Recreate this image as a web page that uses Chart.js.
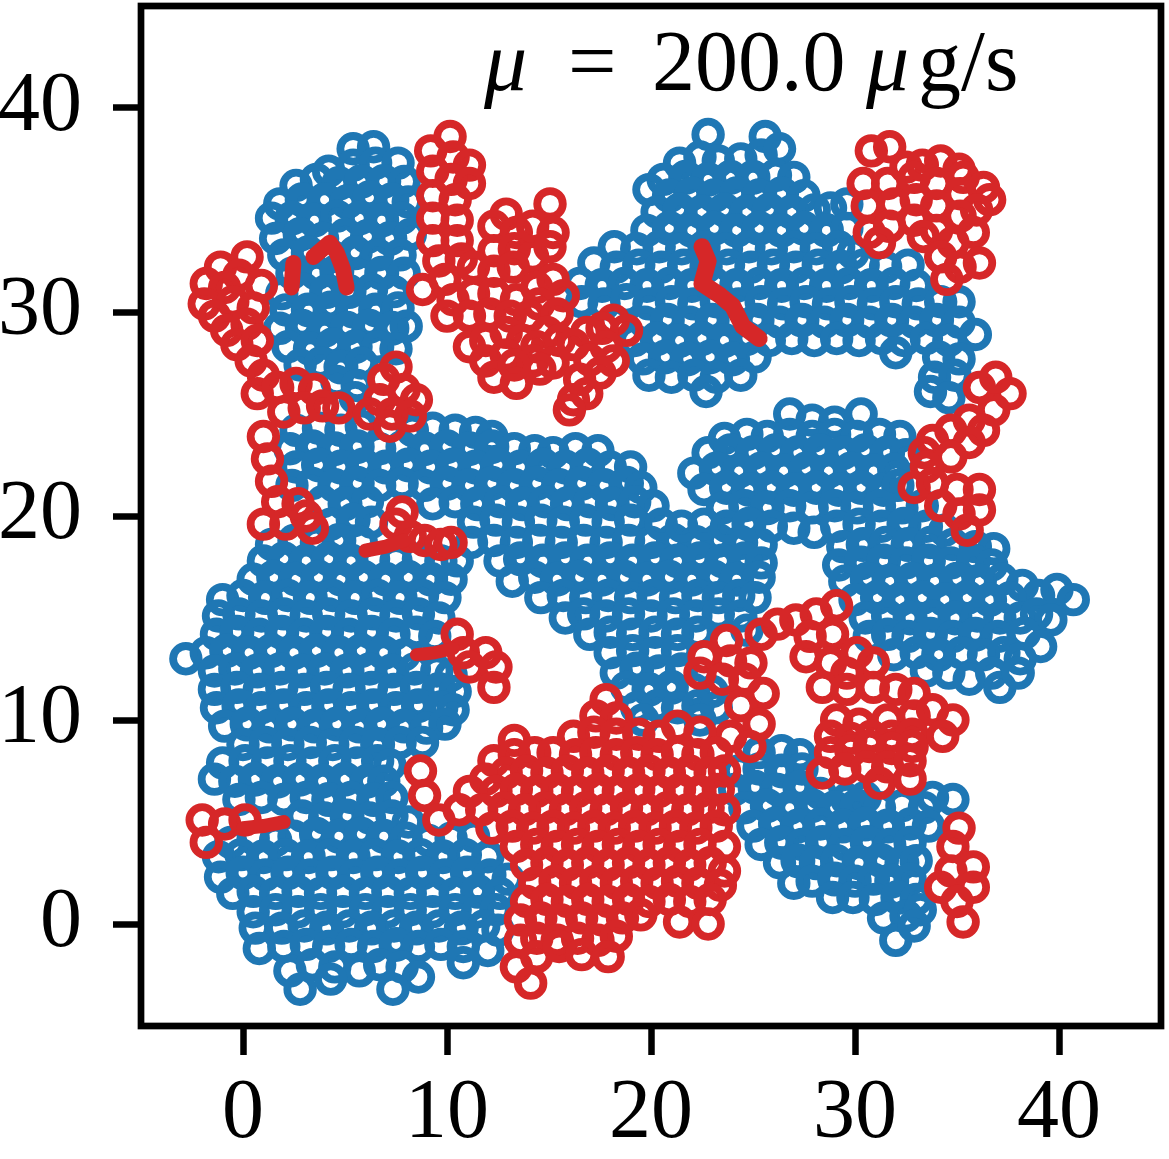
<!DOCTYPE html>
<html>
<head>
<meta charset="utf-8">
<script src="https://cdn.jsdelivr.net/npm/chart.js@4.4.1/dist/chart.umd.min.js"></script>
<style>
  html, body { margin: 0; padding: 0; background: #fff; }
</style>
</head>
<body>
<canvas id="grafico" width="1169" height="1159"></canvas>
<script>
// ticks dos eixos
const xTicks = [0, 10, 20, 30, 40];
const yTicks = [0, 10, 20, 30, 40];

// pontos azuis, por regiao
const blueUpperLeft = [
  [5.4,38.0],[6.4,38.1],
  [4.2,36.9],[5.4,37.2],[6.5,37.3],[7.6,37.3],
  [2.6,36.2],[3.6,36.5],[4.7,36.3],[5.8,36.4],[6.9,36.4],[7.9,36.4],
  [1.8,35.3],[2.9,35.5],[4.0,35.5],[5.1,35.4],[6.2,35.6],[7.3,35.5],[8.1,35.4],
  [1.4,34.6],[2.4,34.6],[3.5,34.5],[4.6,34.7],[5.7,34.6],[6.8,34.5],[7.8,34.6],
  [1.6,33.6],[2.8,33.8],[3.9,33.6],[5.0,33.8],[6.1,33.7],[7.2,33.6],[8.2,33.8],
  [2.0,32.8],[3.2,32.9],[4.3,32.7],[5.5,32.9],[6.6,32.8],[7.7,32.8],
  [2.4,31.9],[3.6,31.9],[4.6,32.0],[5.7,31.8],[6.8,31.9],[7.9,31.9],
  [1.9,30.9],[3.0,31.1],[4.1,31.0],[5.2,31.0],[6.3,31.1],[7.4,31.0],
  [2.1,30.1],[3.2,30.1],[4.3,30.2],[5.4,30.0],[6.5,30.1],[7.6,30.2],
  [1.8,29.2],[2.9,29.3],[4.0,29.1],[5.1,29.2],[6.2,29.3],[7.3,29.2],[8.0,29.3],
  [2.2,28.3],[3.3,28.2],[4.4,28.4],[5.5,28.3],[6.6,28.3],[7.5,28.2],
  [2.8,27.4],[3.8,27.5],[4.8,27.3],[5.8,27.5],
  [4.6,26.6],[5.6,26.4],[5.5,25.8]
];

const blueUpperMiddle = [
  [22.8,38.7],[25.6,38.6],
  [21.4,37.3],[22.4,37.6],[23.3,37.4],[24.4,37.5],[25.4,37.7],[26.3,38.0],
  [20.6,36.5],[21.7,36.6],[22.8,36.5],[23.9,36.6],[25.0,36.6],[26.1,36.7],[27.0,36.6],
  [19.9,36.0],[20.9,35.7],[22.0,35.8],[23.1,35.7],[24.2,35.8],[25.3,35.7],[26.4,35.8],[27.5,35.7],
  [20.3,34.9],[21.4,35.0],[22.5,34.9],[23.6,35.0],[24.7,34.9],[25.8,35.0],[26.9,34.9],[28.0,35.0],[28.8,35.1],[29.6,35.3],
  [19.8,34.0],[20.9,34.1],[22.0,34.0],[23.1,34.1],[24.2,34.0],[25.3,34.1],[26.4,34.0],[27.5,34.1],[28.6,34.0],[29.6,34.1],
  [18.2,33.2],[19.3,33.1],[20.4,33.2],[21.5,33.1],[22.6,33.2],[23.7,33.1],[24.8,33.2],[25.9,33.1],[27.0,33.2],[28.1,33.1],[29.2,33.2],[29.9,32.9],
  [17.2,32.4],[18.3,32.2],[19.4,32.3],[20.5,32.2],[21.6,32.3],[22.7,32.2],[23.8,32.3],[24.9,32.2],[26.0,32.3],[27.1,32.2],[28.2,32.3],[29.3,32.2],[30.4,32.3],[31.5,32.2],[32.6,32.3],
  [16.5,31.4],[17.6,31.3],[18.7,31.4],[19.8,31.3],[20.9,31.4],[22.0,31.3],[23.1,31.4],[24.2,31.3],[25.3,31.4],[26.4,31.3],[27.5,31.4],[28.6,31.3],[29.7,31.4],[30.8,31.3],[31.9,31.4],[33.0,31.3],
  [16.6,30.5],[17.7,30.4],[18.8,30.6],[19.9,30.4],[21.0,30.5],[22.1,30.4],[23.2,30.5],[24.3,30.4],[25.4,30.5],[26.5,30.4],[27.6,30.5],[28.7,30.4],[29.8,30.5],[30.9,30.4],[32.0,30.5],[33.1,30.4],[34.2,30.5],[35.1,30.5],
  [19.7,29.5],[20.8,29.6],[21.9,29.5],[23.0,29.6],[24.1,29.5],[25.2,29.6],[26.3,29.5],[27.4,29.6],[28.5,29.5],[29.6,29.6],[30.7,29.5],[31.8,29.6],[32.9,29.5],[34.0,29.6],[35.1,29.5],
  [19.2,28.6],[20.3,28.7],[21.4,28.6],[22.5,28.7],[23.6,28.6],[24.7,28.7],[25.8,28.6],[26.9,28.7],[28.0,28.6],[29.1,28.7],[30.2,28.6],[31.3,28.7],[32.4,28.6],[33.5,28.7],[34.6,28.6],[35.9,28.9],
  [19.6,27.7],[20.7,27.8],[21.8,27.7],[22.9,27.8],[24.0,27.7],[25.1,27.8],[32.0,28.0],[34.1,27.8],[35.1,27.7],
  [19.9,26.9],[21.0,26.8],[22.1,26.9],[23.2,26.8],[24.4,26.9],[33.9,26.8],[34.9,26.9],
  [22.7,26.1],[33.7,26.1],[34.6,25.8]
];

const blueRightMiddle = [
  [26.8,25.0],[27.9,24.7],[29.0,24.6],[30.3,25.0],
  [23.6,23.8],[24.7,24.0],[25.7,23.9],[26.8,24.0],[27.9,23.9],[29.0,24.0],[30.1,23.9],[31.2,24.0],[32.2,23.9],
  [22.8,23.1],[23.9,23.2],[25.0,23.1],[26.1,23.2],[27.2,23.1],[28.3,23.2],[29.4,23.1],[30.5,23.2],[31.6,23.1],[32.5,23.0],
  [22.1,22.1],[23.2,22.3],[24.3,22.2],[25.4,22.3],[26.5,22.2],[27.6,22.3],[28.7,22.2],[29.8,22.3],[30.9,22.2],[31.9,22.3],
  [22.6,21.3],[23.7,21.4],[24.8,21.3],[25.9,21.4],[27.0,21.3],[28.1,21.4],[29.2,21.3],[30.3,21.4],[31.4,21.3],[32.1,21.5],
  [23.5,20.4],[24.6,20.5],[25.7,20.4],[26.8,20.5],[27.9,20.4],[29.0,20.5],[30.1,20.4],[31.2,20.5],[32.3,20.4],[33.3,20.5],
  [20.5,19.6],[21.5,19.5],[22.6,19.6],[23.7,19.5],[24.8,19.6],[25.9,19.5],[27.0,19.4],[28.0,19.2],[29.1,19.5],[30.2,19.6],[31.3,19.5],[32.4,19.6],[33.5,19.5],[34.4,19.3],
  [29.4,18.5],[30.4,18.6],[31.5,18.7],[32.6,18.6],[33.7,18.7],[34.8,18.6],[35.9,18.5],[36.8,18.4],
  [29.2,17.6],[30.3,17.7],[31.4,17.8],[32.5,17.7],[33.6,17.8],[34.7,17.7],[35.8,17.8],[36.7,17.6],
  [29.5,16.8],[30.6,16.9],[31.7,16.8],[32.8,16.9],[33.9,16.8],[35.0,16.9],[36.1,16.8],[37.2,16.9],[38.2,16.6],[39.0,16.1],[39.9,16.4],
  [30.0,15.9],[31.1,16.0],[32.2,15.9],[33.3,16.0],[34.4,15.9],[35.5,16.0],[36.6,15.9],[37.6,16.0],[40.7,15.9],
  [30.5,15.0],[31.6,15.1],[32.7,15.0],[33.8,15.1],[34.9,15.0],[36.0,15.1],[37.1,15.0],[38.1,15.0],[38.9,15.2],[39.6,14.9],
  [30.7,14.1],[31.6,14.2],[32.6,14.1],[33.7,14.2],[34.8,14.1],[35.9,14.2],[37.0,14.1],[38.3,14.25],
  [31.9,13.2],[33.0,13.3],[34.1,13.2],[35.2,13.3],[36.3,13.2],[37.3,13.3],[38.1,13.0],[39.1,13.6],
  [33.5,12.4],[34.6,12.3],[35.6,12.0],[36.7,12.3],[37.1,11.6],[38.0,12.3]
];

const blueMiddle = [
  [11.2,18.7],[12.3,18.8],[13.4,18.7],[14.5,18.8],[15.6,18.7],[16.7,18.8],[17.8,18.7],[18.9,18.8],[20.0,18.7],[21.1,18.8],[22.2,18.7],[23.3,18.8],[24.4,18.7],[25.4,18.6],
  [12.6,17.8],[13.6,17.9],[14.7,17.8],[15.8,17.9],[16.9,17.8],[18.0,17.9],[19.1,17.8],[20.2,17.9],[21.3,17.8],[22.4,17.9],[23.5,17.8],[24.6,17.9],[25.4,17.7],
  [13.2,16.8],[14.3,17.0],[15.4,16.9],[16.5,17.0],[17.6,16.9],[18.7,17.0],[19.8,16.9],[20.9,17.0],[22.0,16.9],[23.1,17.0],[24.2,16.9],[25.3,17.0],
  [14.6,16.0],[15.7,16.1],[16.8,16.0],[17.9,16.1],[19.0,16.0],[20.1,16.1],[21.2,16.0],[22.3,16.1],[23.3,16.0],[24.3,16.1],[25.1,16.0],
  [15.8,15.0],[16.7,15.2],[17.8,15.1],[18.9,15.2],[20.0,15.1],[21.1,15.2],[22.2,15.1],[23.3,15.2],[24.4,15.1],
  [17.0,14.2],[18.0,14.3],[19.1,14.2],[20.2,14.3],[21.3,14.2],[22.3,14.3],[24.7,14.4],
  [18.0,13.3],[19.1,13.4],[20.2,13.3],[21.3,13.4],
  [18.3,12.3],[19.3,12.5],[20.4,12.4],[21.5,12.5],
  [18.8,11.6],[19.9,11.5],[21.0,11.6],[22.1,11.5],[23.0,11.4],
  [19.3,10.6],[20.3,10.7],[21.3,10.6],[22.3,10.7],[23.2,10.6],
  [19.6,10.0],[22.4,10.0]
];

const blueLowerLeft = [
  [2.6,24.2],[3.7,24.3],[4.8,24.2],[5.8,24.4],[8.3,24.2],[9.3,24.3],[10.4,24.2],[11.4,24.1],[12.2,23.9],
  [2.3,23.3],[3.4,23.4],[4.5,23.3],[5.6,23.4],[6.7,23.3],[7.8,23.4],[8.9,23.3],[10.0,23.4],[11.1,23.3],[12.2,23.4],[13.3,23.3],[14.3,23.2],[15.2,23.1],[16.3,23.3],[17.4,23.2],
  [2.6,22.4],[3.7,22.5],[4.8,22.4],[5.9,22.5],[7.0,22.4],[8.1,22.5],[9.2,22.4],[10.3,22.5],[11.4,22.4],[12.5,22.5],[13.6,22.4],[14.7,22.5],[15.8,22.4],[16.9,22.5],[18.0,22.4],[19.0,22.4],
  [2.4,21.5],[3.4,21.6],[4.5,21.5],[5.6,21.6],[6.7,21.5],[7.8,21.6],[8.9,21.5],[10.0,21.6],[11.1,21.5],[12.2,21.6],[13.3,21.5],[14.4,21.6],[15.5,21.5],[16.6,21.6],[17.7,21.5],[18.8,21.6],[19.5,21.4],
  [3.9,20.7],[5.0,20.6],[6.1,20.7],[9.3,20.6],[10.4,20.7],[11.5,20.6],[12.6,20.7],[13.7,20.6],[14.8,20.7],[15.9,20.6],[17.0,20.7],[18.1,20.6],[19.2,20.7],[20.1,20.5],
  [4.3,19.6],[5.4,19.8],[6.3,19.7],[11.3,19.7],[12.4,19.8],[13.5,19.7],[14.6,19.8],[15.7,19.7],[16.8,19.8],[17.9,19.7],[19.0,19.8],
  [1.4,18.6],[2.5,18.8],[3.6,18.7],[4.7,18.8],[5.8,18.7],
  [1.0,17.8],[2.0,17.9],[3.1,17.8],[4.2,17.9],[5.3,17.8],[6.4,17.9],[7.5,17.8],[8.6,17.9],[9.7,17.8],[10.5,17.8],
  [0.5,16.9],[1.5,17.0],[2.6,16.9],[3.7,17.0],[4.8,16.9],[5.9,17.0],[7.0,16.9],[8.1,17.0],[9.2,16.9],[10.2,16.9],
  [-1.0,15.9],[0.0,16.1],[1.1,16.0],[2.2,16.1],[3.3,16.0],[4.4,16.1],[5.5,16.0],[6.6,16.1],[7.7,16.0],[8.8,16.1],[9.9,16.0],
  [-1.2,15.1],[-0.2,15.2],[0.9,15.1],[2.0,15.2],[3.1,15.1],[4.2,15.2],[5.3,15.1],[6.4,15.2],[7.5,15.1],[8.6,15.2],[9.6,15.0],
  [-1.3,14.2],[-0.3,14.3],[0.8,14.2],[1.9,14.3],[3.0,14.2],[4.1,14.3],[5.2,14.2],[6.3,14.3],[7.4,14.2],[8.5,14.3],[9.4,14.1],
  [-2.8,13.0],[-1.8,13.3],[-0.8,13.4],[0.3,13.3],[1.4,13.4],[2.5,13.3],[3.6,13.4],[4.7,13.3],[5.8,13.4],[6.9,13.3],[7.9,13.2],
  [-1.4,12.4],[-0.4,12.5],[0.7,12.4],[1.8,12.5],[2.9,12.4],[4.0,12.5],[5.1,12.4],[6.2,12.5],[7.3,12.4],[8.4,12.5],[9.5,12.4],[10.2,12.2],
  [-1.4,11.5],[-0.3,11.6],[0.8,11.5],[1.9,11.6],[3.0,11.5],[4.1,11.6],[5.2,11.5],[6.3,11.6],[7.4,11.5],[8.5,11.6],[9.6,11.5],[10.4,11.4],
  [-1.3,10.6],[-0.2,10.7],[0.9,10.6],[2.0,10.7],[3.1,10.6],[4.2,10.7],[5.3,10.6],[6.4,10.7],[7.5,10.6],[8.6,10.7],[9.7,10.6],[10.3,10.5],
  [-0.9,9.7],[0.2,9.8],[1.3,9.7],[2.4,9.8],[3.5,9.7],[4.6,9.8],[5.7,9.7],[6.8,9.8],[7.9,9.7],[9.0,9.6],[9.9,9.8],
  [0.0,8.8],[1.1,8.9],[2.2,8.8],[3.3,8.9],[4.4,8.8],[5.5,8.9],[6.6,8.8],[7.7,8.9],[8.8,8.9],
  [-1.0,7.9],[0.1,8.0],[1.2,7.9],[2.3,8.0],[3.4,7.9],[4.5,8.0],[5.6,7.9],[6.6,8.0],[7.2,7.8],
  [-1.4,7.1],[-0.4,7.0],[0.6,7.1],[1.7,7.0],[2.8,7.1],[3.9,7.0],[5.0,7.1],[6.1,7.0],[6.9,7.0],
  [-0.2,6.1],[0.9,6.2],[2.0,6.1],[3.1,6.2],[4.2,6.1],[5.3,6.2],[6.4,6.1],[7.3,6.2],
  [2.9,5.3],[4.0,5.2],[5.1,5.3],[6.2,5.2],[7.3,5.3],[8.1,5.0],
  [-0.6,4.0],[0.5,4.2],[1.6,4.1],[2.5,4.3],[3.6,4.4],[4.7,4.3],[5.8,4.4],[6.9,4.3],[8.0,4.2],[9.1,4.1],[10.2,4.2],[11.3,4.3],
  [-1.2,3.3],[-0.1,3.4],[1.0,3.3],[2.1,3.4],[3.2,3.3],[4.3,3.4],[5.4,3.3],[6.5,3.4],[7.6,3.3],[8.7,3.4],[9.8,3.3],[10.9,3.4],[12.0,3.3],
  [-1.1,2.3],[0.0,2.5],[1.1,2.4],[2.2,2.5],[3.3,2.4],[4.4,2.5],[5.5,2.4],[6.6,2.5],[7.7,2.4],[8.8,2.5],[9.9,2.4],[11.0,2.5],[12.1,2.4],[13.0,2.2],
  [-0.5,1.5],[0.5,1.6],[1.6,1.5],[2.7,1.6],[3.8,1.5],[4.9,1.6],[6.0,1.5],[7.1,1.6],[8.2,1.5],[9.3,1.6],[10.4,1.5],[11.5,1.6],[12.6,1.5],
  [0.5,0.6],[1.6,0.7],[2.7,0.6],[3.8,0.7],[4.9,0.6],[6.0,0.7],[7.1,0.6],[8.2,0.7],[9.3,0.6],[10.4,0.7],[11.5,0.6],[12.4,0.7],
  [0.6,-0.2],[1.9,-0.2],[3.0,-0.1],[4.1,-0.2],[5.2,-0.1],[6.3,-0.2],[7.4,-0.1],[8.5,-0.2],[9.6,-0.1],[10.7,-0.2],[11.8,-0.1],[12.5,-0.3],
  [0.8,-1.2],[2.0,-1.1],[3.1,-1.0],[4.2,-1.1],[5.3,-1.0],[6.4,-1.1],[7.5,-1.0],[8.6,-1.1],[9.7,-1.0],[10.8,-1.1],[12.0,-1.3],
  [2.3,-2.3],[3.4,-2.0],[4.5,-2.1],[5.7,-2.3],[6.7,-2.0],[7.8,-2.1],[8.6,-2.6],[10.8,-1.9],
  [2.8,-3.2],[4.3,-2.7],[7.35,-3.2]
];

const blueLowerRight = [
  [25.3,8.4],[26.4,8.5],[27.3,8.3],
  [24.3,7.5],[25.3,7.6],[26.4,7.5],[27.4,7.6],
  [24.1,6.6],[25.1,6.7],[26.2,6.6],[27.3,6.7],[28.3,6.4],
  [29.6,6.1],[30.5,6.2],[33.8,6.2],[34.8,6.1],
  [24.6,5.7],[25.7,5.8],[26.8,5.7],[27.9,5.8],[29.0,5.7],[30.1,5.8],[31.2,5.7],[32.3,5.8],[33.4,5.7],
  [25.0,4.8],[26.1,4.9],[27.2,4.8],[28.3,4.9],[29.4,4.8],[30.5,4.9],[31.6,4.8],[32.7,4.9],[33.6,4.8],
  [25.4,3.9],[26.4,4.0],[27.4,3.9],[28.4,4.0],[29.5,3.9],[30.6,4.0],[31.7,3.9],[32.7,4.0],
  [26.3,3.0],[27.2,3.1],[28.1,3.0],[29.1,3.1],[30.2,3.0],[31.3,3.1],[32.3,3.0],[33.0,3.1],
  [27.0,2.0],[27.9,2.1],[29.0,2.2],[30.0,2.1],[30.9,2.2],[31.8,2.1],[32.7,2.2],
  [28.9,1.3],[29.9,1.3],[31.0,1.2],[32.1,1.3],[33.0,1.2],
  [31.4,0.3],[32.5,0.4],[33.2,0.7],
  [32.0,-0.8],[32.9,-0.1]
];

// pontos vermelhos, por regiao
const redUpperLeft = [
  [0.2,32.7],[-1.1,32.2],[-0.2,31.8],[-1.8,31.4],[-0.9,31.2],[0.9,31.3],[-1.9,30.4],[-0.5,30.5],[0.5,30.2],
  [-1.4,29.8],[-0.8,29.1],[0.2,29.4],[-0.3,28.4],[0.7,28.6],[0.4,27.6],[1.0,26.9],
  [0.7,26.0],[1.7,26.3],[2.6,26.5],[3.5,26.2],[2.0,25.1],[3.0,25.3],[3.9,25.4],[4.7,25.3],
  [7.5,27.3],[6.9,26.7],[7.9,26.2],[6.7,25.7],[8.5,25.7],[6.2,25.0],[7.3,25.0],[7.2,24.4],[8.2,24.9]
];

const redUpperMiddle = [
  [9.2,37.9],[10.15,38.6],[10.3,37.6],[11.1,37.2],[9.3,36.9],[10.2,36.5],[11.1,36.3],[9.3,35.7],[10.4,35.5],
  [9.3,34.6],[10.5,34.5],[9.3,33.5],[10.5,33.5],[9.6,32.5],[10.7,32.6],[8.8,31.1],[9.9,31.6],
  [12.9,34.8],[12.3,34.2],[13.4,33.9],[12.3,33.0],[13.3,33.1],[14.2,32.7],[11.3,32.2],[12.3,32.0],[13.25,32.2],
  [14.4,31.2],[15.2,31.6],[15.7,30.8],[11.3,30.9],[12.3,30.9],[13.4,30.6],[10.3,30.6],[14.5,30.4],
  [10.0,29.8],[11.1,29.8],[12.1,29.9],[13.1,29.8],[14.05,29.8],[15.4,29.9],[14.9,29.0],
  [11.1,28.3],[11.9,28.6],[12.9,29.0],[13.7,28.6],[15.5,28.6],[14.4,28.3],
  [11.9,27.6],[12.9,27.9],[14.2,27.6],[15.2,27.5],[12.3,26.8],[13.4,26.5],[14.55,27.2],[13.3,27.4],
  [15.05,35.3],[14.2,34.2],[15.2,33.9],[15.05,33.2],
  [18.15,29.6],[18.8,29.1],[17.6,29.2],[16.85,29.0],[16.2,28.4],[17.8,28.3],[17.0,27.65],[18.15,27.6],
  [16.5,26.7],[17.5,27.0],[16.2,25.7],[16.85,26.0],[16.0,25.2]
];

const redTopRight = [
  [30.8,37.9],[31.7,38.1],[32.5,37.1],[33.3,37.2],[34.2,37.4],[35.1,37.0],[35.3,36.6],[36.3,36.1],[36.6,35.5],
  [30.4,36.3],[31.6,36.3],[32.9,36.6],[34.0,36.3],[35.15,35.8],[35.96,35.0],
  [30.6,35.2],[31.9,35.3],[33.0,35.5],[34.0,35.2],[35.15,34.7],
  [30.7,33.9],[31.7,34.2],[32.9,34.5],[34.0,34.0],[35.8,33.9],[31.2,33.4],[33.35,33.7],
  [34.8,33.4],[34.2,32.7],[36.1,32.4],[35.15,32.2],[34.5,31.6]
];

const redRight = [
  [37.6,26.0],[36.8,25.2],[36.1,26.3],[36.9,26.8],[35.6,24.7],[36.3,24.2],[34.7,24.2],[33.8,23.7],[35.6,23.6],
  [33.4,23.1],[34.7,22.9],[33.5,22.4],[32.9,21.4],[33.8,21.6],[35.0,21.3],[36.1,21.3],
  [34.2,20.5],[35.1,20.1],[36.1,20.3],[35.5,19.3]
];

const redSmall = [
  [1.0,23.9],[1.2,22.8],[1.4,21.7],[1.7,20.7],[1.0,19.6],[2.1,19.6],[3.1,20.0],[2.7,20.6],[3.4,19.4],
  [7.8,20.2],[7.5,19.6],[8.2,19.0],[8.9,18.8],[9.7,18.6],[10.2,18.7],
  [10.5,14.2],[10.8,13.3],[11.9,13.3],[11.1,12.6],[12.4,12.6],[12.3,11.6],
  [-2.0,5.1],[-1.8,4.0],[-0.9,4.9],[0.1,5.1],
  [35.1,4.7],[34.8,3.8],[35.8,2.8],[34.7,2.6],[35.8,1.8],[34.2,1.8],[35.0,1.1],[35.3,0.1]
];

const redLower = [
  [26.2,14.7],[27.1,14.9],[28.1,15.2],[29.1,15.6],
  [23.7,13.9],[25.4,14.2],[22.6,13.1],[23.9,12.9],[24.9,12.8],[22.4,12.3],[23.5,12.0],[24.6,12.0],
  [25.5,11.3],[24.4,10.7],[25.3,9.8],[23.9,9.2],[24.85,8.7],
  [27.8,14.1],[28.9,14.2],[27.6,13.1],[28.8,12.8],[30.1,13.3],[30.9,12.8],[29.6,12.3],
  [28.4,11.6],[29.6,11.5],[30.9,11.6],[32.0,11.5],[32.9,11.3],
  [29.1,10.0],[30.2,9.8],[31.6,10.0],[32.9,10.2],[33.8,10.5],[34.8,10.0],
  [28.8,9.2],[29.8,9.1],[30.8,9.2],[31.8,9.2],[32.8,9.3],[34.3,9.2],
  [28.8,8.4],[29.8,8.5],[30.7,8.7],[31.8,8.6],[32.8,8.7],
  [28.4,7.4],[29.5,7.6],[30.6,7.7],[31.6,7.7],[32.7,8.0],[31.2,6.9],[32.7,7.1],
  [17.8,11.0],[17.3,10.2],[18.3,10.1],
  [13.3,9.0],[16.2,9.2],[17.2,9.4],[18.3,9.3],[19.4,9.3],[20.4,9.2],[21.3,9.7],[22.4,9.4],
  [12.3,8.0],[13.3,8.3],[14.3,8.4],[15.2,8.4],[16.3,8.3],[17.3,8.4],[18.3,8.3],[19.3,8.4],[20.3,8.3],[21.3,8.4],[22.3,8.3],[23.2,8.4],
  [8.7,7.5],[11.9,7.1],[12.9,7.4],[13.9,7.5],[14.9,7.4],[15.9,7.5],[16.9,7.4],[17.9,7.5],[18.9,7.4],[19.9,7.5],[20.9,7.4],[21.9,7.5],[22.9,7.4],[23.6,7.5],
  [8.9,6.3],[11.1,6.5],[12.4,6.5],[13.4,6.6],[14.4,6.5],[15.4,6.6],[16.4,6.5],[17.4,6.6],[18.4,6.5],[19.4,6.6],[20.4,6.5],[21.4,6.6],[22.4,6.5],[23.3,6.6],
  [9.6,5.1],[10.6,5.6],[11.7,5.6],[12.8,5.7],[13.8,5.6],[14.8,5.7],[15.8,5.6],[16.8,5.7],[17.8,5.6],[18.8,5.7],[19.8,5.6],[20.8,5.7],[21.8,5.6],[22.8,5.7],[23.6,5.6],
  [12.2,4.7],[13.2,4.8],[14.2,4.7],[15.2,4.8],[16.2,4.7],[17.2,4.8],[18.2,4.7],[19.2,4.8],[20.2,4.7],[21.2,4.8],[22.2,4.7],[23.2,4.8],
  [13.4,3.8],[14.4,3.9],[15.4,3.8],[16.4,3.9],[17.4,3.8],[18.4,3.9],[19.4,3.8],[20.4,3.9],[21.4,3.8],[22.4,3.9],[23.6,3.8],
  [13.9,2.9],[14.9,3.0],[15.9,2.9],[16.9,3.0],[17.9,2.9],[18.9,3.0],[19.9,2.9],[20.9,3.0],[21.9,2.9],[22.9,3.0],[23.6,2.6],
  [14.3,2.0],[15.3,2.1],[16.3,2.0],[17.3,2.1],[18.3,2.0],[19.3,2.1],[20.3,2.0],[21.3,2.1],[22.3,2.0],[23.4,1.9],
  [13.9,1.1],[14.9,1.2],[15.9,1.1],[16.9,1.2],[17.9,1.1],[18.9,1.2],[19.9,1.1],[20.9,1.2],[21.9,1.1],[22.9,1.2],
  [13.6,0.2],[14.6,0.3],[15.6,0.2],[16.6,0.3],[17.6,0.2],[18.6,0.3],[19.5,0.45],[21.4,0.1],[22.8,0.0],
  [13.6,-0.8],[14.4,-0.7],[15.4,-0.8],[16.4,-0.7],[17.4,-0.8],[18.3,-0.6],
  [13.4,-2.1],[14.4,-1.6],[15.5,-1.1],[16.6,-1.5],[17.9,-1.6],
  [14.1,-2.9]
];

// trilhas vermelhas (tracos grossos)
const trailUL1 = [[2.47,32.4],[2.38,31.2]];
const trailUL2 = [[3.45,32.7],[4.26,33.4],[4.6,32.9],[4.9,32.1],[5.08,31.2]];
const trailUM = [[22.5,33.2],[22.8,32.5],[22.5,31.4],[23.4,30.8],[24.0,30.3],[24.5,29.3],[25.3,28.7]];
const trailK = [[0.0,4.7],[1.0,4.8],[2.0,5.0]];
const trailD = [[6.0,18.3],[7.0,18.5],[7.9,18.8]];
const trailE = [[8.5,13.2],[9.4,13.3],[10.3,13.5]];

const AZUL = '#1f77b4';
const VERMELHO = '#d62728';
const toXY = arr => arr.map(p => ({ x: p[0], y: p[1] }));

const todosAzuis = [].concat(blueUpperLeft, blueUpperMiddle, blueRightMiddle, blueMiddle, blueLowerLeft, blueLowerRight);

// pontos azuis cercados por vizinhos ficam com anel mais grosso (miolo das manchas)
function ehMiolo(p, todos) {
  let n = 0;
  for (const q of todos) {
    const dx = q[0] - p[0], dy = q[1] - p[1];
    const d2 = dx * dx + dy * dy;
    if (d2 > 1e-6 && d2 < 1.69) n++;
  }
  return n >= 6;
}

function pontos(arr, cor) {
  const miolo = arr.map(p => cor === AZUL && ehMiolo(p, todosAzuis));
  return {
    data: toXY(arr),
    borderColor: cor,
    backgroundColor: 'rgba(0,0,0,0)',
    pointRadius: miolo.map(m => m ? 11 : 12.8),
    pointHoverRadius: miolo.map(m => m ? 11 : 12.8),
    pointBorderWidth: miolo.map(m => m ? 13 : 7.8),
    pointStyle: 'circle',
    order: cor === AZUL ? 2 : 1
  };
}

function trilha(arr, largura) {
  return {
    data: toXY(arr),
    showLine: true,
    borderColor: VERMELHO,
    borderWidth: largura,
    borderCapStyle: 'round',
    borderJoinStyle: 'round',
    pointRadius: 0,
    pointHoverRadius: 0,
    tension: 0,
    order: 0
  };
}

// moldura do grafico e titulo
const moldura = {
  id: 'moldura',
  afterDatasetsDraw(chart) {
    const { ctx, chartArea } = chart;
    ctx.save();
    ctx.strokeStyle = '#000';
    ctx.lineWidth = 6.7;
    ctx.strokeRect(chartArea.left, chartArea.top, chartArea.right - chartArea.left, chartArea.bottom - chartArea.top);
    ctx.restore();
  },
  afterDraw(chart) {
    const ctx = chart.ctx;
    ctx.save();
    ctx.fillStyle = '#000';
    ctx.textBaseline = 'alphabetic';
    ctx.textAlign = 'left';
    ctx.font = 'italic 86px "Liberation Serif"';
    ctx.fillText('\u03bc', 484, 90);
    ctx.fillText('\u03bc', 866, 90);
    ctx.font = '86px "Liberation Serif"';
    ctx.fillText('=', 568, 90);
    ctx.fillText('200.0', 652, 90);
    ctx.fillText('g/s', 918, 90);
    ctx.restore();
  }
};

const semPadding = axis => {
  axis.paddingTop = 0; axis.paddingBottom = 0;
  axis.paddingLeft = 0; axis.paddingRight = 0;
};

const ctx = document.getElementById('grafico').getContext('2d');
const grafico = new Chart(ctx, {
  type: 'scatter',
  data: {
    datasets: [
      trilha(trailUM, 17), trilha(trailUL1, 16), trilha(trailUL2, 16),
      trilha(trailK, 14), trilha(trailD, 14), trilha(trailE, 13),
      pontos(redUpperLeft, VERMELHO), pontos(redUpperMiddle, VERMELHO), pontos(redTopRight, VERMELHO),
      pontos(redRight, VERMELHO), pontos(redSmall, VERMELHO), pontos(redLower, VERMELHO),
      pontos(blueUpperLeft, AZUL), pontos(blueUpperMiddle, AZUL), pontos(blueRightMiddle, AZUL),
      pontos(blueMiddle, AZUL), pontos(blueLowerLeft, AZUL), pontos(blueLowerRight, AZUL)
    ]
  },
  options: {
    responsive: false,
    devicePixelRatio: 1,
    animation: false,
    events: [],
    layout: { autoPadding: false, padding: { top: 6, right: 8, left: 0, bottom: 0 } },
    plugins: { legend: { display: false }, tooltip: { enabled: false } },
    scales: {
      x: {
        type: 'linear', min: -5, max: 45,
        afterBuildTicks: axis => { axis.ticks = xTicks.map(v => ({ value: v })); },
        afterFit: axis => { axis.height = 133; semPadding(axis); },
        border: { display: false },
        grid: { drawOnChartArea: false, drawTicks: true, tickLength: 29, tickWidth: 6.5, tickColor: '#000' },
        ticks: { color: '#000', font: { family: 'Liberation Serif', size: 84 }, padding: 10, maxRotation: 0, autoSkip: false }
      },
      y: {
        type: 'linear', min: -5, max: 45,
        afterBuildTicks: axis => { axis.ticks = yTicks.map(v => ({ value: v })); },
        afterFit: axis => { axis.width = 141; semPadding(axis); },
        border: { display: false },
        grid: { drawOnChartArea: false, drawTicks: true, tickLength: 28, tickWidth: 6.5, tickColor: '#000' },
        ticks: { color: '#000', font: { family: 'Liberation Serif', size: 84 }, padding: 31, autoSkip: false }
      }
    }
  },
  plugins: [moldura]
});
</script>
</body>
</html>
